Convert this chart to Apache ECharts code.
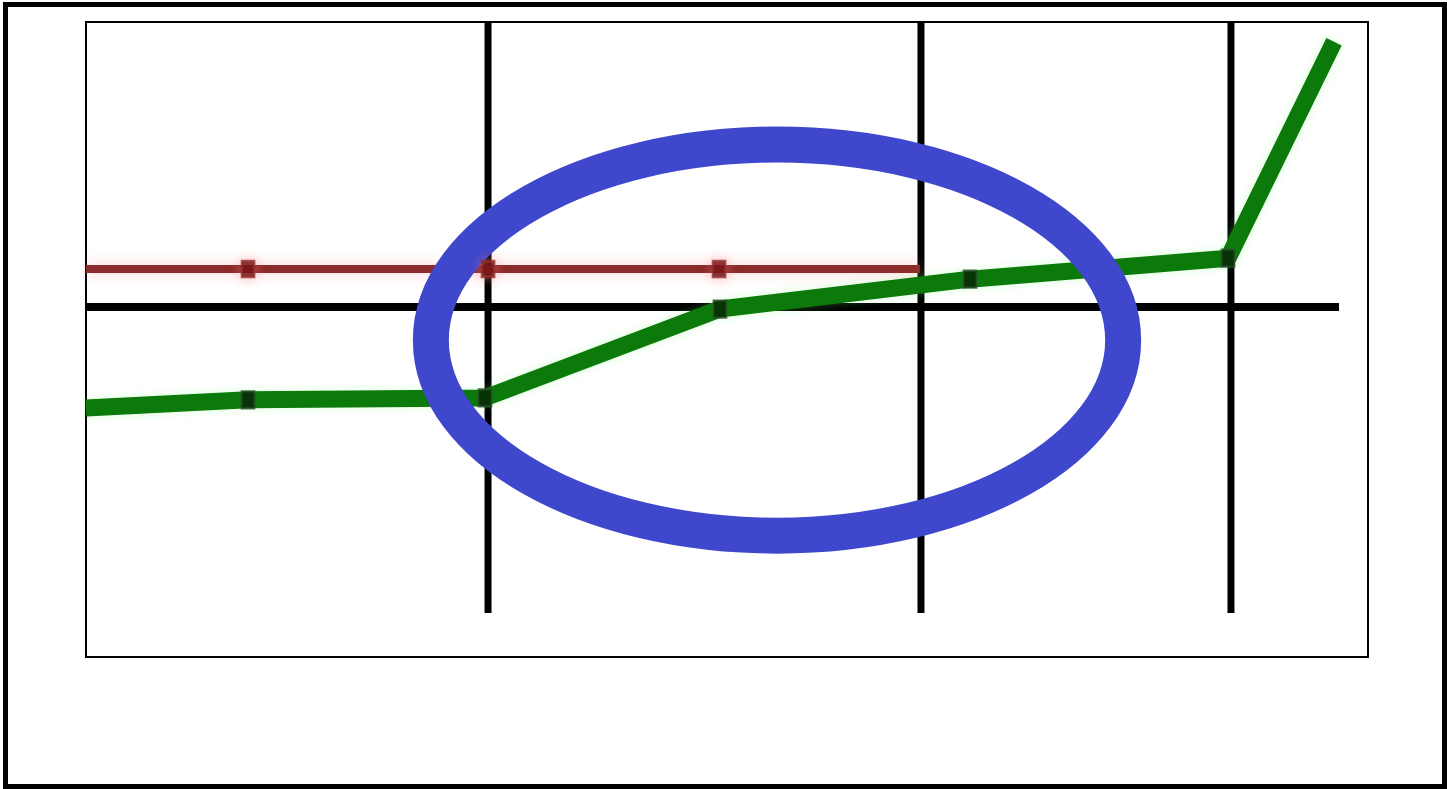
<!DOCTYPE html>
<html>
<head>
<meta charset="utf-8">
<script src="https://cdn.jsdelivr.net/npm/echarts@6/dist/echarts.min.js"></script>
<style>
html,body{margin:0;padding:0;background:#fff;}
#chart{width:1447px;height:789px;}
</style>
</head>
<body>
<div id="chart"></div>
<script>
// ---- data (0..100 scale on both axes) ----
const greenX = [0, 12.64, 31.12, 49.45, 68.95, 89.08, 97.35];
const greenY = [39.2, 40.5, 40.8, 54.8, 59.5, 62.8, 96.9];
const greenMarkers = [1, 2, 3, 4, 5];           // indices that carry a marker

const redX = [0, 12.64, 31.36, 49.38, 65.05];
const redY = [61.1, 61.1, 61.1, 61.1, 61.1];
const redMarkers = [1, 2, 3];

const refLineY = 55.1;                           // horizontal black line
const refLineXRange = [0, 97.74];
const vLineX = [31.36, 65.13, 89.31];            // vertical black lines
const vLineYRange = [6.93, 100];

const ellipseCenter = [53.9, 49.9];              // highlighted region
const ellipseRadii = [27.0, 30.8];

// ---- build ----
const chart = echarts.init(document.getElementById('chart'));

const greenLine = greenX.map((x, i) => [x, greenY[i]]);
const greenPts = greenMarkers.map(i => [greenX[i], greenY[i]]);
const redLine = redX.map((x, i) => [x, redY[i]]);
const redPts = redMarkers.map(i => [redX[i], redY[i]]);

const series = [];

series.push({
  type: 'line', z: 1, silent: true, symbol: 'none', animation: false,
  data: [[refLineXRange[0], refLineY], [refLineXRange[1], refLineY]],
  lineStyle: {color: '#000', width: 8}
});
vLineX.forEach(x => {
  series.push({
    type: 'line', z: 1, silent: true, symbol: 'none', animation: false,
    data: [[x, vLineYRange[0]], [x, vLineYRange[1]]],
    lineStyle: {color: '#000', width: 7}
  });
});
series.push({
  type: 'line', z: 2, silent: true, symbol: 'none', animation: false,
  data: redLine,
  lineStyle: {color: '#8c2b2b', width: 8, shadowColor: 'rgba(255,140,140,0.45)', shadowBlur: 14}
});
series.push({
  type: 'line', z: 2, silent: true, symbol: 'none', animation: false,
  data: greenLine,
  lineStyle: {color: '#0b7a0b', width: 17, shadowColor: 'rgba(120,255,120,0.3)', shadowBlur: 8}
});
series.push({
  type: 'custom', z: 3, silent: true, animation: false,
  data: [[ellipseCenter[0], ellipseCenter[1], ellipseRadii[0], ellipseRadii[1]]],
  renderItem: function (params, api) {
    const c = api.coord([api.value(0), api.value(1)]);
    const e = api.coord([api.value(0) + api.value(2), api.value(1) + api.value(3)]);
    return {
      type: 'ellipse',
      shape: {cx: c[0], cy: c[1], rx: Math.abs(e[0] - c[0]), ry: Math.abs(c[1] - e[1])},
      style: {fill: 'none', stroke: '#3f48cc', lineWidth: 36}
    };
  }
});
series.push({
  type: 'scatter', z: 4, silent: true, animation: false,
  data: redPts, symbol: 'rect', symbolSize: [12, 15],
  itemStyle: {color: '#5a0000', borderColor: '#8f2d2d', borderWidth: 3,
    shadowColor: 'rgba(255,120,120,0.5)', shadowBlur: 12}
});
series.push({
  type: 'scatter', z: 4, silent: true, animation: false,
  data: greenPts, symbol: 'rect', symbolSize: [13, 17],
  itemStyle: {color: '#062206', borderColor: '#2b4f2b', borderWidth: 2}
});

chart.setOption({
  backgroundColor: '#fff',
  animation: false,
  grid: {left: 86, top: 22, width: 1282, height: 635, show: true,
    borderColor: '#000', borderWidth: 2, backgroundColor: '#fff'},
  xAxis: {type: 'value', min: 0, max: 100, show: false},
  yAxis: {type: 'value', min: 0, max: 100, show: false},
  graphic: [{
    type: 'rect', z: 10, silent: true,
    shape: {x: 5.5, y: 4.5, width: 1439, height: 782},
    style: {fill: 'none', stroke: '#000', lineWidth: 5}
  }],
  series: series
});
</script>
</body>
</html>
